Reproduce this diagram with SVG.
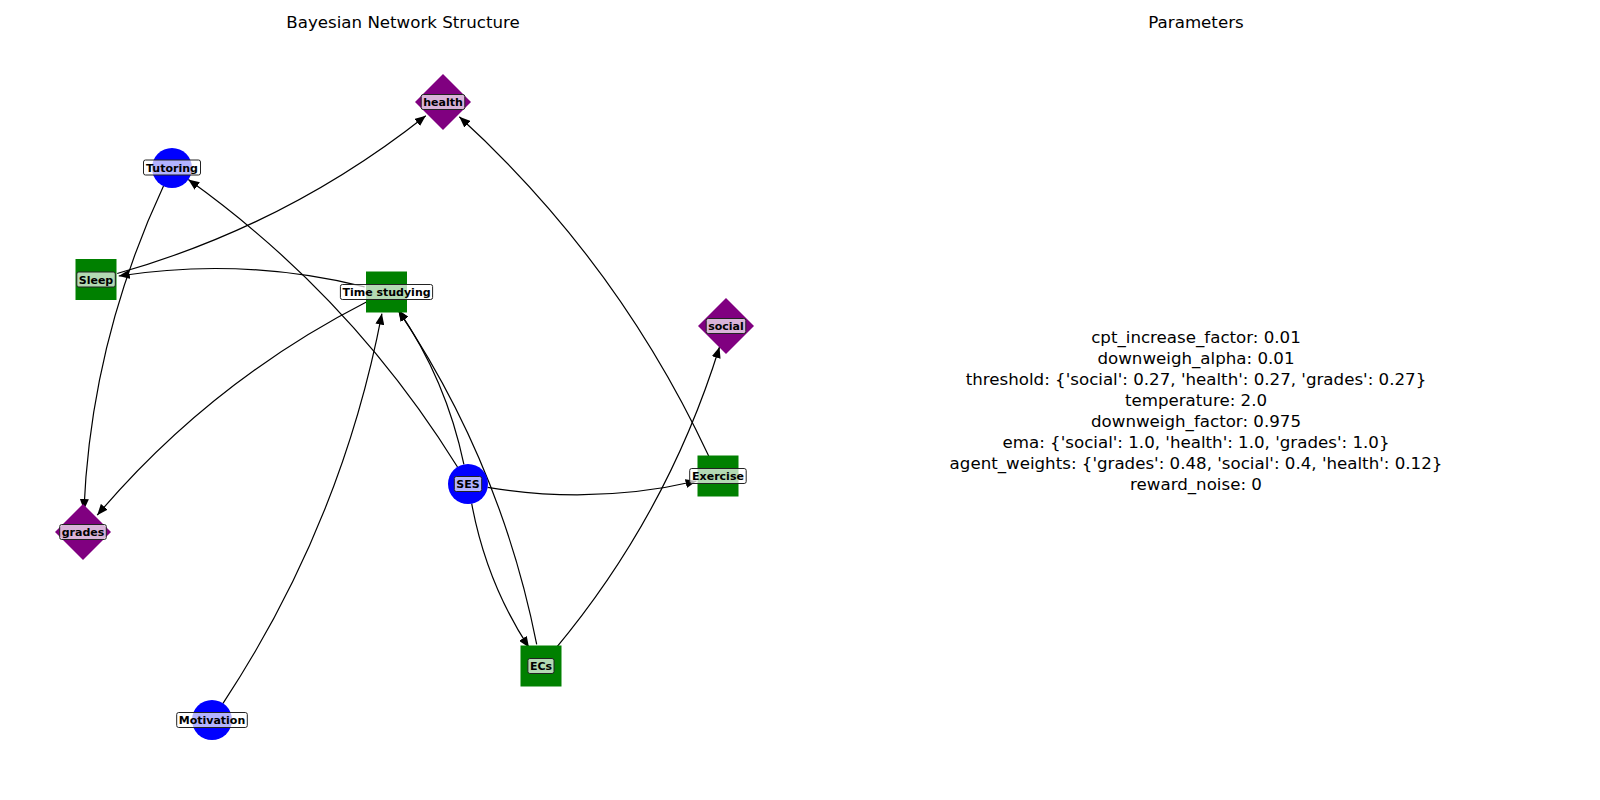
<svg xmlns="http://www.w3.org/2000/svg" width="1600" height="800" viewBox="0 0 1600 800">
<style>
.title{font-family:"DejaVu Sans",sans-serif;font-size:16.67px;fill:#000;text-anchor:middle}
.param{font-family:"DejaVu Sans",sans-serif;font-size:16.67px;fill:#000;text-anchor:middle}
.edge{fill:none;stroke:#000;stroke-width:1.2;marker-end:url(#arr)}
.circ{fill:#0000ff}
.sq{fill:#008000}
.dia{fill:#800080}
.lbox{fill:#fff;fill-opacity:0.7;stroke:#222;stroke-width:1}
.ltxt{font-family:"DejaVu Sans",sans-serif;font-size:11px;font-weight:bold;fill:#000;text-anchor:middle}
</style>
<defs>
<marker id="arr" viewBox="0 0 11 9" refX="11" refY="4.5" markerWidth="11" markerHeight="9" markerUnits="userSpaceOnUse" orient="auto">
<path d="M0,0 L11,4.5 L0,9 z" fill="#000"/>
</marker>
</defs>
<rect width="1600" height="800" fill="#fff"/>
<text class="title" x="403" y="28">Bayesian Network Structure</text>
<text class="title" x="1196" y="28">Parameters</text>
<g id="connectors">
<path class="edge" d="M364.6,286.8 Q242.25,256.75 118.7,276"/>
<path class="edge" d="M117.2,273.5 Q287.25,225.45 425.8,115.7"/>
<path class="edge" d="M163.5,186.1 Q91.1,341.1 83.9,510"/>
<path class="edge" d="M457.5,467 Q351.6,296.4 188.3,179.6"/>
<path class="edge" d="M366.4,302 Q210.5,381.7 97.2,515.2"/>
<path class="edge" d="M223,703.3 Q341.8,523.4 381.9,313.6"/>
<path class="edge" d="M463.9,464.4 Q446.2,379.8 398.4,310.1"/>
<path class="edge" d="M536.7,644.4 Q500.9,463.5 398.3,310.3"/>
<path class="edge" d="M471.7,503.7 Q486.3,582.3 529,647.6"/>
<path class="edge" d="M487.7,487.3 Q593.8,505 696.6,481"/>
<path class="edge" d="M708.7,456.1 Q617.9,261.5 459.3,116.8"/>
<path class="edge" d="M555.1,649.1 Q667.5,514.5 719.5,347"/>
</g>
<g id="node-health">
<polygon class="dia" points="443,74 471,102 443,130 415,102"/>
<rect class="lbox" x="421.2" y="94.5" width="43.6" height="15" rx="2"/>
<text class="ltxt" x="443" y="106">health</text>
</g>
<g id="node-social">
<polygon class="dia" points="726,298 754,326 726,354 698,326"/>
<rect class="lbox" x="706.2" y="318.5" width="39.6" height="15" rx="2"/>
<text class="ltxt" x="726" y="330">social</text>
</g>
<g id="node-grades">
<polygon class="dia" points="83,504 111,532 83,560 55,532"/>
<rect class="lbox" x="59.7" y="524.5" width="46.6" height="15" rx="2"/>
<text class="ltxt" x="83" y="536">grades</text>
</g>
<g id="node-tutoring">
<circle class="circ" cx="172" cy="168" r="20"/>
<rect class="lbox" x="143.5" y="160" width="57" height="15" rx="2"/>
<text class="ltxt" x="172" y="171.5">Tutoring</text>
</g>
<g id="node-ses">
<circle class="circ" cx="468" cy="484" r="20"/>
<rect class="lbox" x="454.3" y="476.5" width="27.4" height="15" rx="2"/>
<text class="ltxt" x="468" y="488">SES</text>
</g>
<g id="node-motivation">
<circle class="circ" cx="212" cy="720" r="20"/>
<rect class="lbox" x="176.7" y="712.5" width="70.6" height="15" rx="2"/>
<text class="ltxt" x="212" y="724">Motivation</text>
</g>
<g id="node-sleep">
<rect class="sq" x="75.5" y="259" width="41" height="41"/>
<rect class="lbox" x="76.8" y="272" width="38.5" height="15" rx="2"/>
<text class="ltxt" x="96" y="283.5">Sleep</text>
</g>
<g id="node-time-studying">
<rect class="sq" x="366" y="271.5" width="41" height="41"/>
<rect class="lbox" x="340.4" y="284.5" width="92.2" height="15" rx="2"/>
<text class="ltxt" x="386.5" y="296">Time studying</text>
</g>
<g id="node-exercise">
<rect class="sq" x="697.5" y="455.5" width="41" height="41"/>
<rect class="lbox" x="689.7" y="468.5" width="56.5" height="15" rx="2"/>
<text class="ltxt" x="718" y="480">Exercise</text>
</g>
<g id="node-ecs">
<rect class="sq" x="520.5" y="645.5" width="41" height="41"/>
<rect class="lbox" x="527.9" y="658.5" width="26.1" height="15" rx="2"/>
<text class="ltxt" x="541" y="670">ECs</text>
</g>
<g id="parameters">
<text class="param" x="1196" y="343">cpt_increase_factor: 0.01</text>
<text class="param" x="1196" y="364">downweigh_alpha: 0.01</text>
<text class="param" x="1196" y="385">threshold: {'social': 0.27, 'health': 0.27, 'grades': 0.27}</text>
<text class="param" x="1196" y="406">temperature: 2.0</text>
<text class="param" x="1196" y="427">downweigh_factor: 0.975</text>
<text class="param" x="1196" y="448">ema: {'social': 1.0, 'health': 1.0, 'grades': 1.0}</text>
<text class="param" x="1196" y="469">agent_weights: {'grades': 0.48, 'social': 0.4, 'health': 0.12}</text>
<text class="param" x="1196" y="490">reward_noise: 0</text>
</g>
</svg>
